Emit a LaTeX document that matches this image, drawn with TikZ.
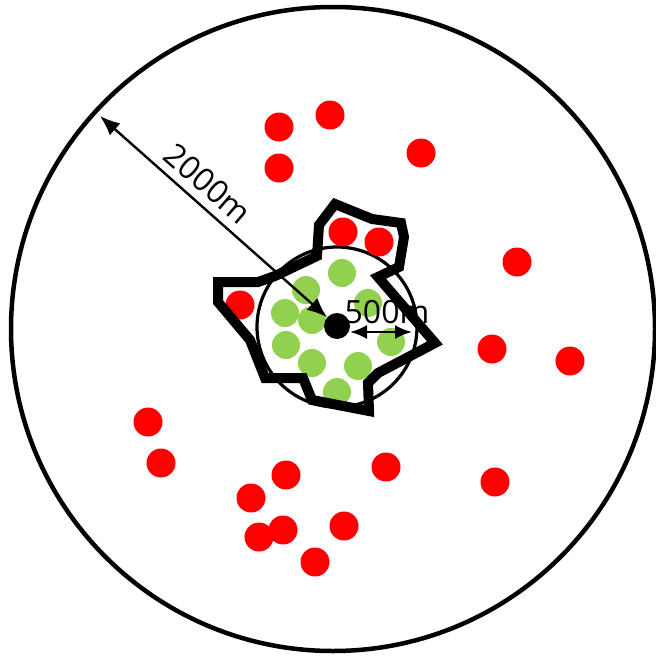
\documentclass[tikz,border=0pt]{standalone}
\usepackage{fontspec}
\setmainfont{Open Sans}
\usetikzlibrary{arrows.meta}
\definecolor{dotred}{HTML}{FF0000}
\definecolor{dotgreen}{HTML}{92D050}
\begin{document}
\begin{tikzpicture}[x=1pt,y=-1pt,
  reddot/.style={circle,fill=dotred,inner sep=0pt,minimum size=29pt},
  greendot/.style={circle,fill=dotgreen,inner sep=0pt,minimum size=28pt},
  blackdot/.style={circle,fill=black,inner sep=0pt,minimum size=26pt},
  bigring/.style={draw=black,line width=4.5pt},
  smallring/.style={draw=black,line width=3.2pt},
  zone/.style={draw=black,line width=10pt,line join=miter},
  dimarrow/.style={line width=2.4pt,{Latex[length=20pt,width=16pt]}-{Latex[length=20pt,width=16pt]}},
  dimarrowb/.style={line width=2.4pt,{Latex[length=17pt,width=14pt]}-{Latex[length=17pt,width=14pt]}},
  lbl/.style={inner sep=0pt,font=\fontsize{32}{37}\selectfont}]
\useasboundingbox (0,0) rectangle (656,656);
\fill[white] (0,0) rectangle (656,656);
% rings
\draw[bigring] (333,329) circle[radius=322];
\draw[smallring] (337,327) circle[radius=80];
% red dots
\foreach \n/\x/\y in {r1/279/127,r2/330/115,r3/279/168,r4/421/153,r5/343/232,r6/379/242,
  r7/517/262,r8/240/305,r9/492/349,r10/570/361,r11/148/422,r12/161/463,r13/286/475,
  r14/386/467,r15/251/498,r16/495/482,r17/259/537,r18/283/530,r19/344/526,r20/315/562}
  \node[reddot] (\n) at (\x,\y) {};
% green dots
\foreach \n/\x/\y in {g1/342/273,g2/306/290,g3/285/313,g4/312/320,g5/286/345,g6/312/363,
  g7/358/366,g8/337/392,g9/391/342,g10/368/303}
  \node[greendot] (\n) at (\x,\y) {};
% zone outline
\draw[zone] (335,204) -- (372,219) -- (401,223) -- (404,237) -- (399,267) -- (378,277)
  -- (435,343) -- (378,373) -- (368,383) -- (369,411) -- (312,400) -- (303,378)
  -- (265,378) -- (250,340) -- (218,302) -- (218,282) -- (258,282) -- (275,276)
  -- (317,256) -- (319,225) -- cycle;
% centre
\node[blackdot] (ctr) at (337,326) {};
% 2000m dimension
\coordinate (rimpt) at (100,116);
\draw[dimarrow] (rimpt) -- (ctr);
\node[lbl,rotate=-41] (l2000) at (208,184) {2000m};
% 500m dimension
\coordinate (ra) at (350,332);
\coordinate (rb) at (412,332);
\draw[dimarrowb] (ra) -- (rb);
\node[lbl] (l500) at (387,312) {500m};
\end{tikzpicture}
\end{document}
